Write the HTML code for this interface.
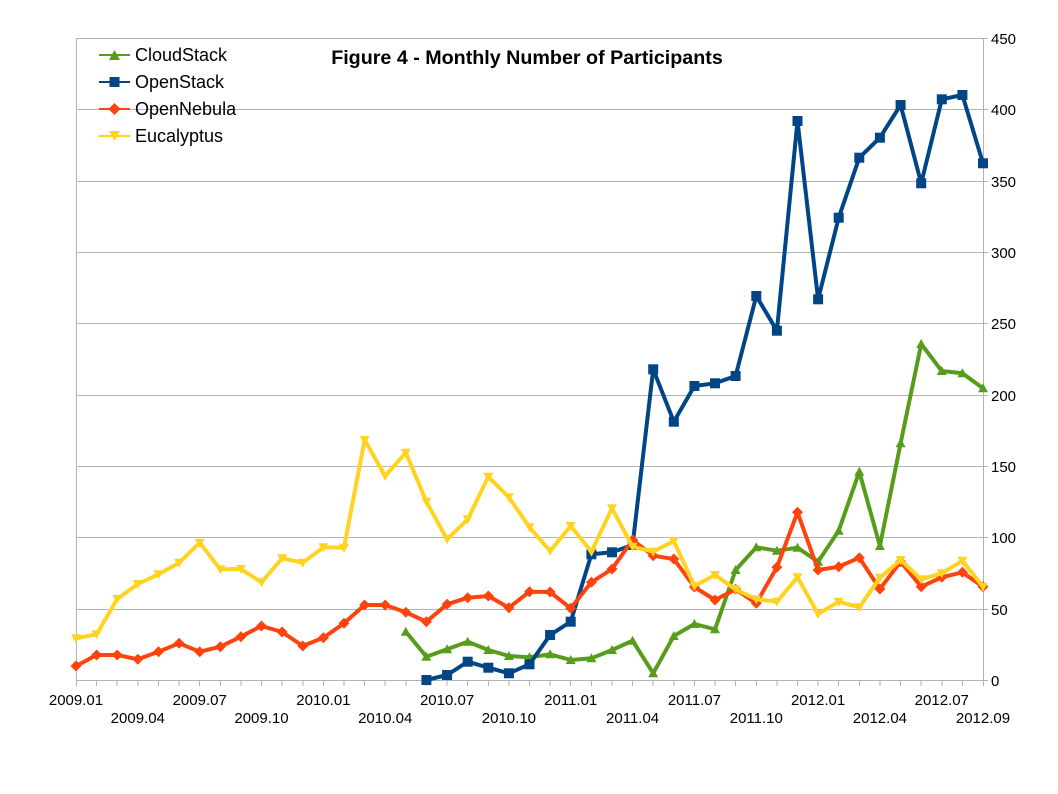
<!DOCTYPE html>
<html><head><meta charset="utf-8"><style>
html,body{margin:0;padding:0;background:#fff;}
svg{display:block;}
text{font-family:"Liberation Sans",Arial,sans-serif;fill:#000;}
</style></head><body>
<svg width="1058" height="794" viewBox="0 0 1058 794" xmlns="http://www.w3.org/2000/svg">
<defs>
<marker id="mtri" markerUnits="userSpaceOnUse" markerWidth="14" markerHeight="14" refX="7" refY="7" viewBox="0 0 14 14" overflow="visible"><path d="M2,11 L12,11 L7,2 Z" fill="#579d1c"/></marker>
<marker id="msq" markerUnits="userSpaceOnUse" markerWidth="14" markerHeight="14" refX="7" refY="7" viewBox="0 0 14 14" overflow="visible"><rect x="2" y="2" width="10" height="10" fill="#004586"/></marker>
<marker id="mdia" markerUnits="userSpaceOnUse" markerWidth="14" markerHeight="14" refX="7" refY="7" viewBox="0 0 14 14" overflow="visible"><path d="M7,1.5 L12.5,7 L7,12.5 L1.5,7 Z" fill="#ff420e"/></marker>
<marker id="minv" markerUnits="userSpaceOnUse" markerWidth="14" markerHeight="14" refX="7" refY="7" viewBox="0 0 14 14" overflow="visible"><path d="M2,3 L12,3 L7,12 Z" fill="#ffd320"/></marker>
</defs>

<!-- gridlines -->
<g stroke="#b3b3b3" stroke-width="1" shape-rendering="crispEdges">
<line x1="76" y1="38.5" x2="988" y2="38.5"/>
<line x1="76" y1="109.5" x2="988" y2="109.5"/>
<line x1="76" y1="181.5" x2="988" y2="181.5"/>
<line x1="76" y1="252.5" x2="988" y2="252.5"/>
<line x1="76" y1="323.5" x2="988" y2="323.5"/>
<line x1="76" y1="395.5" x2="988" y2="395.5"/>
<line x1="76" y1="466.5" x2="988" y2="466.5"/>
<line x1="76" y1="537.5" x2="988" y2="537.5"/>
<line x1="76" y1="609.5" x2="988" y2="609.5"/>
<line x1="76" y1="680.5" x2="988" y2="680.5"/>
<line x1="76.5" y1="38" x2="76.5" y2="680"/>
<line x1="983.5" y1="38" x2="983.5" y2="680"/>
</g>
<!-- x ticks -->
<path stroke="#b3b3b3" stroke-width="1" shape-rendering="crispEdges" d="M76.5,680v6M96.6,680v6M117.2,680v6M137.8,680v6M158.5,680v6M179.1,680v6M199.7,680v6M220.3,680v6M240.9,680v6M261.5,680v6M282.1,680v6M302.8,680v6M323.4,680v6M344,680v6M364.6,680v6M385.2,680v6M405.8,680v6M426.4,680v6M447.1,680v6M467.7,680v6M488.3,680v6M508.9,680v6M529.5,680v6M550.1,680v6M570.7,680v6M591.4,680v6M612,680v6M632.6,680v6M653.2,680v6M673.8,680v6M694.4,680v6M715,680v6M735.6,680v6M756.3,680v6M776.9,680v6M797.5,680v6M818.1,680v6M838.7,680v6M859.3,680v6M879.9,680v6M900.6,680v6M921.2,680v6M941.8,680v6M962.4,680v6M983.5,680v6"/>

<!-- y labels -->
<g font-size="15">
<text x="991" y="44">450</text>
<text x="991" y="115">400</text>
<text x="991" y="187">350</text>
<text x="991" y="258">300</text>
<text x="991" y="329">250</text>
<text x="991" y="401">200</text>
<text x="991" y="472">150</text>
<text x="991" y="543">100</text>
<text x="991" y="615">50</text>
<text x="991" y="686">0</text>
</g>

<!-- x labels -->
<g font-size="15" text-anchor="middle">
<text x="76" y="705">2009.01</text>
<text x="199.7" y="705">2009.07</text>
<text x="323.4" y="705">2010.01</text>
<text x="447.1" y="705">2010.07</text>
<text x="570.7" y="705">2011.01</text>
<text x="694.4" y="705">2011.07</text>
<text x="818.1" y="705">2012.01</text>
<text x="941.8" y="705">2012.07</text>
<text x="137.8" y="723">2009.04</text>
<text x="261.5" y="723">2009.10</text>
<text x="385.2" y="723">2010.04</text>
<text x="508.9" y="723">2010.10</text>
<text x="632.6" y="723">2011.04</text>
<text x="756.3" y="723">2011.10</text>
<text x="879.9" y="723">2012.04</text>
<text x="983" y="723">2012.09</text>
</g>

<!-- series -->
<g fill="none" stroke-width="4" stroke-linejoin="round" stroke-linecap="round">
<polyline stroke="#579d1c" marker-start="url(#mtri)" marker-mid="url(#mtri)" marker-end="url(#mtri)" points="405.8,631.7 426.4,656.7 447.1,649.3 467.7,641.7 488.3,650 508.9,656 529.5,657.3 550.1,654.3 570.7,660 591.4,658.3 612,650 632.6,640.7 653.2,673.3 673.8,636 694.4,624 715,629.3 735.6,570 756.3,547.3 776.9,550.7 797.5,547.7 818.1,561.7 838.7,530.7 859.3,471.7 879.9,546 900.6,443.3 921.2,344 941.8,371 962.4,373.3 983,388.3"/>
<polyline stroke="#004586" marker-start="url(#msq)" marker-mid="url(#msq)" marker-end="url(#msq)" points="426.4,680 447.1,675 467.7,661.7 488.3,667.7 508.9,673.3 529.5,664.3 550.1,635 570.7,621.7 591.4,554.3 612,552.3 632.6,545 653.2,369.3 673.8,421.7 694.4,386 715,383.3 735.6,376 756.3,296 776.9,330.7 797.5,121 818.1,299.3 838.7,217.7 859.3,157.7 879.9,137.7 900.6,105 921.2,183.3 941.8,99.3 962.4,95 983,163.3"/>
<polyline stroke="#ff420e" marker-start="url(#mdia)" marker-mid="url(#mdia)" marker-end="url(#mdia)" points="76,666 96.6,655 117.2,655 137.8,659.3 158.5,651.7 179.1,643.3 199.7,651.7 220.3,646.7 240.9,636.7 261.5,626 282.1,632 302.8,646 323.4,637.7 344,623.3 364.6,605 385.2,605 405.8,612.3 426.4,621.7 447.1,604.3 467.7,597.7 488.3,596 508.9,607.7 529.5,591.7 550.1,592 570.7,608.3 591.4,582.3 612,569 632.6,540 653.2,555.7 673.8,559 694.4,587 715,600 735.6,589.3 756.3,603.3 776.9,567.3 797.5,512.3 818.1,570 838.7,566.7 859.3,557.7 879.9,589 900.6,561.7 921.2,586.7 941.8,577.3 962.4,572.3 983,586.7"/>
<polyline stroke="#ffd320" marker-start="url(#minv)" marker-mid="url(#minv)" marker-end="url(#minv)" points="76,638.3 96.6,634.3 117.2,599 137.8,584 158.5,574.3 179.1,562.7 199.7,542.7 220.3,569.3 240.9,569 261.5,582.3 282.1,558.3 302.8,562.7 323.4,547.3 344,547.7 364.6,440 385.2,476 405.8,452.7 426.4,501.7 447.1,539.3 467.7,519.3 488.3,476.7 508.9,497.3 529.5,527.3 550.1,551 570.7,526 591.4,551.7 612,508.3 632.6,546.7 653.2,551.7 673.8,541 694.4,586 715,575 735.6,589.3 756.3,599.3 776.9,601.7 797.5,577.3 818.1,614 838.7,601.7 859.3,607.3 879.9,577.7 900.6,560 921.2,579.3 941.8,573.3 962.4,560.7 983,586.7"/>
</g>

<!-- legend -->
<g stroke-width="2">
<line x1="99" y1="55" x2="130" y2="55" stroke="#579d1c"/>
<path d="M109,60 L120,60 L114.5,50 Z" fill="#579d1c"/>
<line x1="99" y1="82" x2="130" y2="82" stroke="#004586"/>
<rect x="109.5" y="77" width="10" height="10" fill="#004586"/>
<line x1="99" y1="109" x2="130" y2="109" stroke="#ff420e"/>
<path d="M114.5,103 L120.5,109 L114.5,115 L108.5,109 Z" fill="#ff420e"/>
<line x1="99" y1="136" x2="130" y2="136" stroke="#ffd320"/>
<path d="M109,131 L120,131 L114.5,141 Z" fill="#ffd320"/>
</g>
<g font-size="18">
<text x="135" y="61">CloudStack</text>
<text x="135" y="88">OpenStack</text>
<text x="135" y="115">OpenNebula</text>
<text x="135" y="142">Eucalyptus</text>
</g>

<!-- title -->
<text x="527" y="64" font-size="19.7" font-weight="bold" text-anchor="middle">Figure 4 - Monthly Number of Participants</text>
</svg>
</body></html>
